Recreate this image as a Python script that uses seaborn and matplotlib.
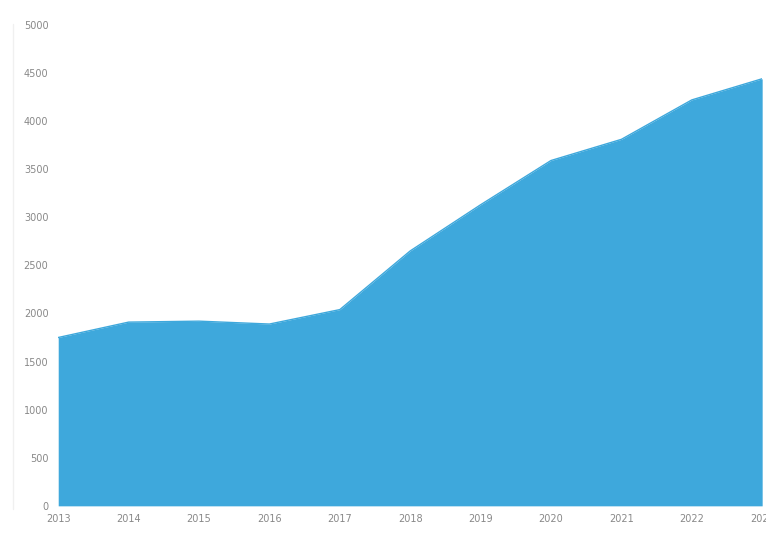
import seaborn as sns
from matplotlib import pyplot as plt
import pandas as pd

# 数据
years = [2013, 2014, 2015, 2016, 2017, 2018, 2019, 2020, 2021, 2022, 2023]
values = [1750, 1910, 1920, 1890, 2040, 2650, 3130, 3590, 3810, 4220, 4440]
year_labels = ['2013', '2014', '2015', '2016', '2017', '2018', '2019', '2020', '2021', '2022', '2023']
y_ticks = [0, 500, 1000, 1500, 2000, 2500, 3000, 3500, 4000, 4500, 5000]

df = pd.DataFrame({'year': years, 'value': values})

sns.set_style('white')
color = '#3ea8dc'

fig = plt.figure(figsize=(7.66, 5.41), dpi=100)
ax = fig.add_axes([0.076, 0.065, 0.919, 0.889])

sns.lineplot(data=df, x='year', y='value', color=color, linewidth=1, ax=ax)
ax.fill_between(df['year'], df['value'], 0, color=color, alpha=1, linewidth=0)

ax.set_xlim(years[0], years[-1])
ax.set_ylim(0, 5000)
ax.set_xticks(years)
ax.set_xticklabels(year_labels)
ax.set_yticks(y_ticks)
ax.set_xlabel('')
ax.set_ylabel('')
ax.tick_params(axis='both', labelsize=7, colors='#888888', length=0)
ax.tick_params(axis='y', pad=7)
ax.tick_params(axis='x', pad=6)

for side in ['top', 'right', 'bottom', 'left']:
    ax.spines[side].set_visible(False)

# 左侧淡色竖线
fig.add_artist(plt.Line2D([0.017, 0.017], [0.06, 0.955], color='#f0f0f0', linewidth=1))

plt.savefig('out.png', dpi=100)
